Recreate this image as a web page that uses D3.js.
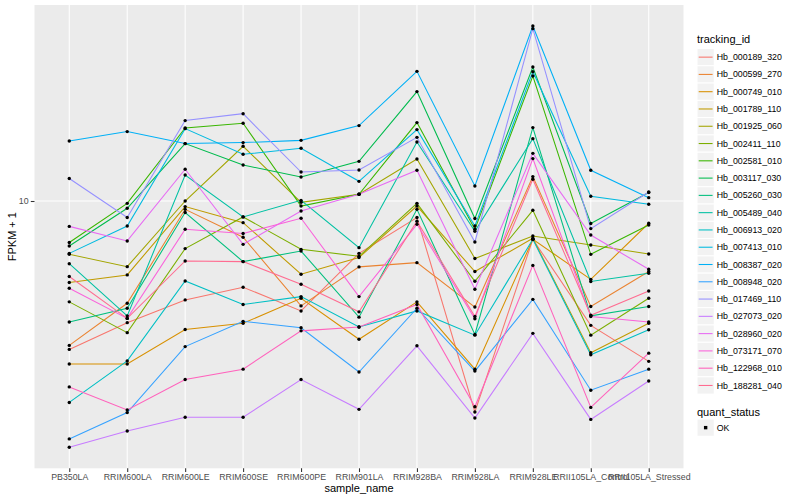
<!DOCTYPE html>
<html><head><meta charset="utf-8">
<script src="https://cdn.jsdelivr.net/npm/d3@7"></script>
<style>body{margin:0;background:#fff;} svg{display:block;font-family:"Liberation Sans",Arial,Helvetica,sans-serif;}</style>
</head><body><svg id="chart" width="800" height="500"></svg>
<script>
const categories = ["PB350LA","RRIM600LA","RRIM600LE","RRIM600SE","RRIM600PE","RRIM901LA","RRIM928BA","RRIM928LA","RRIM928LE","RRII105LA_Control","RRII105LA_Stressed"];
const trackingIds = ["Hb_000189_320","Hb_000599_270","Hb_000749_010","Hb_001789_110","Hb_001925_060","Hb_002411_110","Hb_002581_010","Hb_003117_030","Hb_005260_030","Hb_005489_040","Hb_006913_020","Hb_007413_010","Hb_008387_020","Hb_008948_020","Hb_017469_110","Hb_027073_020","Hb_028960_020","Hb_073171_070","Hb_122968_010","Hb_188281_040"];
const quantStatus = ["OK"];
const yTickValues = [10];

// FPKM + 1 per sample, one array per tracking_id
const hb000189_320 = [3.20, 3.93, 4.68, 5.16, 4.30, 6.69, 8.81, 1.98, 7.45, 3.85, 2.92];
const hb000599_270 = [3.30, 4.56, 9.38, 7.57, 4.47, 6.03, 6.23, 4.43, 12.06, 4.45, 5.82];
const hb000749_010 = [2.86, 2.86, 3.73, 3.91, 4.74, 3.46, 4.61, 2.75, 7.45, 5.48, 8.43];
const hb001789_110 = [5.35, 5.67, 9.58, 8.47, 5.70, 6.48, 9.62, 5.82, 7.51, 3.12, 3.91];
const hb001925_060 = [6.64, 6.04, 10.00, 15.22, 9.90, 10.53, 13.80, 6.43, 7.64, 7.13, 6.66];
const hb002411_110 = [4.61, 3.64, 6.94, 8.85, 6.90, 6.54, 9.82, 5.40, 9.31, 3.57, 4.74];
const hb002581_010 = [7.27, 9.82, 17.51, 18.16, 9.62, 10.53, 18.26, 8.05, 26.10, 6.64, 8.32];
const hb003117_030 = [7.08, 9.46, 15.54, 13.18, 12.02, 13.56, 23.16, 8.74, 27.97, 8.41, 10.67];
const hb005260_030 = [3.95, 4.39, 9.15, 6.28, 6.81, 4.10, 9.38, 3.59, 17.57, 4.14, 4.45];
const hb005489_040 = [6.18, 4.14, 12.21, 8.85, 10.05, 6.99, 15.73, 7.93, 16.14, 5.39, 5.74];
const hb006913_020 = [2.13, 2.93, 5.41, 4.52, 4.80, 3.80, 4.30, 3.57, 7.45, 3.07, 3.72];
const hb007413_010 = [6.69, 8.25, 17.43, 14.31, 14.99, 11.63, 17.30, 8.25, 26.99, 10.37, 9.75];
const hb008387_020 = [15.85, 17.04, 15.54, 15.66, 15.93, 17.84, 27.06, 11.22, 38.31, 12.66, 10.26];
const hb008948_020 = [1.61, 1.97, 3.27, 3.97, 3.78, 2.69, 4.39, 2.71, 4.70, 2.34, 2.75];
const hb017469_110 = [11.88, 8.81, 18.54, 19.55, 12.49, 12.69, 16.30, 7.30, 37.56, 8.09, 10.72];
const hb027073_020 = [1.51, 1.71, 1.90, 1.90, 2.54, 2.02, 3.29, 1.89, 3.62, 1.87, 2.51];
const hb028960_020 = [8.23, 7.36, 12.76, 7.17, 9.26, 10.53, 12.66, 5.08, 14.42, 7.70, 5.92];
const hb073171_070 = [5.12, 4.06, 8.05, 7.79, 8.76, 4.80, 8.36, 4.05, 13.85, 4.12, 3.95];
const hb122968_010 = [2.40, 2.01, 2.54, 2.75, 3.69, 3.80, 4.52, 2.06, 6.10, 2.05, 3.11];
const hb188281_040 = [5.60, 4.06, 6.31, 6.28, 5.28, 4.27, 8.56, 4.12, 11.82, 4.16, 5.01];

const seriesValues = [hb000189_320, hb000599_270, hb000749_010, hb001789_110, hb001925_060, hb002411_110, hb002581_010, hb003117_030, hb005260_030, hb005489_040, hb006913_020, hb007413_010, hb008387_020, hb008948_020, hb017469_110, hb027073_020, hb028960_020, hb073171_070, hb122968_010, hb188281_040];

const palette = ["#F8766D","#EA8331","#D89000","#C09B00","#A3A500","#7CAE00","#39B600","#00BB4E","#00BF7D","#00C1A3","#00BFC4","#00BAE0","#00B0F6","#35A2FF","#9590FF","#C77CFF","#E76BF3","#FA62DB","#FF62BC","#FF6C91"];

const table = trackingIds.map((id, i) => ({
  id, values: seriesValues[i].map((v, j) => ({sample: categories[j], value: v, status: "OK"}))
}));

const panel = {left: 34.5, right: 683.5, top: 5, bottom: 468.3};
const svg = d3.select("#chart");

const x = d3.scalePoint().domain(categories).range([panel.left, panel.right]).padding(0.6);
const ext = d3.extent(seriesValues.flat());
const lmin = Math.log10(ext[0]), lmax = Math.log10(ext[1]);
const pad = (lmax - lmin) * 0.05;
const y = d3.scaleLog().domain([Math.pow(10, lmin - pad), Math.pow(10, lmax + pad)]).range([panel.bottom, panel.top]);
const color = d3.scaleOrdinal().domain(trackingIds).range(palette);

// panel background
svg.append("rect").attr("x", panel.left).attr("y", panel.top)
  .attr("width", panel.right - panel.left).attr("height", panel.bottom - panel.top)
  .attr("fill", "#EBEBEB");

// grid
const grid = svg.append("g");
grid.selectAll("line.v").data(categories).enter().append("line")
  .attr("x1", d => x(d)).attr("x2", d => x(d))
  .attr("y1", panel.top).attr("y2", panel.bottom)
  .attr("stroke", "#fff").attr("stroke-width", 1.07);
grid.selectAll("line.h").data(yTickValues).enter().append("line")
  .attr("x1", panel.left).attr("x2", panel.right)
  .attr("y1", d => y(d)).attr("y2", d => y(d))
  .attr("stroke", "#fff").attr("stroke-width", 1.07);

// lines
const line = d3.line().x(d => x(d.sample)).y(d => y(d.value));
svg.append("g").selectAll("path").data(table).enter().append("path")
  .attr("d", d => line(d.values))
  .attr("fill", "none")
  .attr("stroke", d => color(d.id))
  .attr("stroke-width", 1.07);

// points
svg.append("g").selectAll("g").data(table).enter().append("g")
  .selectAll("circle").data(d => d.values).enter().append("circle")
  .attr("cx", d => x(d.sample)).attr("cy", d => y(d.value))
  .attr("r", 1.7).attr("fill", "#000");

// axes
const xAxis = svg.append("g").attr("transform", `translate(0,${panel.bottom})`)
  .call(d3.axisBottom(x).tickSize(3.7).tickPadding(2.2));
const yAxis = svg.append("g").attr("transform", `translate(${panel.left},0)`)
  .call(d3.axisLeft(y).tickValues(yTickValues).tickFormat(d3.format("d")).tickSize(3.7).tickPadding(2.2));
[xAxis, yAxis].forEach(a => {
  a.select(".domain").remove();
  a.selectAll(".tick line").attr("stroke", "#333333").attr("stroke-width", 1.07);
  a.selectAll(".tick text").attr("fill", "#4D4D4D").style("font-size", "8.8px")
    .style("font-family", '"Liberation Sans",Arial,sans-serif');
});

// axis titles
svg.append("text").attr("x", (panel.left + panel.right) / 2).attr("y", 491.5)
  .attr("text-anchor", "middle").style("font-size", "11px").attr("fill", "#000").text("sample_name");
svg.append("text").attr("transform", `translate(16,${(panel.top + panel.bottom) / 2}) rotate(-90)`)
  .attr("text-anchor", "middle").style("font-size", "11px").attr("fill", "#000").text("FPKM + 1");

// legend: tracking_id
const lg = svg.append("g");
const keyX = 697, keyTop = 48.5, keyH = 17.28;
lg.append("text").attr("x", keyX).attr("y", 43).style("font-size", "11px").attr("fill", "#000").text("tracking_id");
const rows = lg.selectAll("g.row").data(trackingIds).enter().append("g")
  .attr("transform", (d, i) => `translate(${keyX},${keyTop + i * keyH})`);
rows.append("rect").attr("width", keyH).attr("height", keyH).attr("fill", "#F2F2F2")
  .attr("stroke", "#fff").attr("stroke-width", 1);
rows.append("line").attr("x1", 1.7).attr("x2", keyH - 1.7).attr("y1", keyH / 2).attr("y2", keyH / 2)
  .attr("stroke", d => color(d)).attr("stroke-width", 1.07);
rows.append("text").attr("x", keyH + 2.5).attr("y", keyH / 2).attr("dy", "0.35em")
  .style("font-size", "8.8px").attr("fill", "#000").text(d => d);

// legend: quant_status
const qTop = 419;
lg.append("text").attr("x", keyX).attr("y", 415.5).style("font-size", "11px").attr("fill", "#000").text("quant_status");
const qRows = lg.selectAll("g.qrow").data(quantStatus).enter().append("g")
  .attr("transform", (d, i) => `translate(${keyX},${qTop + i * keyH})`);
qRows.append("rect").attr("width", keyH).attr("height", keyH).attr("fill", "#F2F2F2")
  .attr("stroke", "#fff").attr("stroke-width", 1);
qRows.append("rect").attr("x", keyH / 2 - 1.7).attr("y", keyH / 2 - 1.7).attr("width", 3.4).attr("height", 3.4).attr("fill", "#000");
qRows.append("text").attr("x", keyH + 2.5).attr("y", keyH / 2).attr("dy", "0.35em")
  .style("font-size", "8.8px").attr("fill", "#000").text(d => d);
</script></body></html>
